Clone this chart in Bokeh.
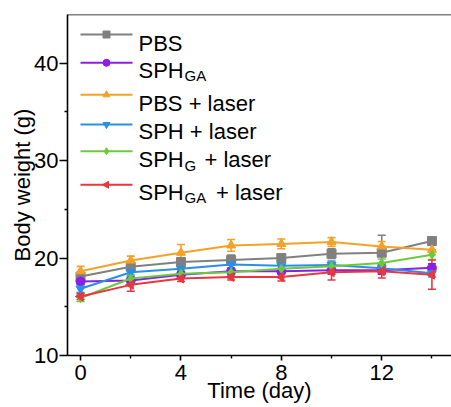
import math
from bokeh.plotting import figure
from bokeh.models import (ColumnDataSource, Range1d, FixedTicker, Whisker,
                          TeeHead, Label, Span)
from bokeh.embed import file_html
from bokeh.resources import INLINE

# Body weight (g) of mice over 14 days, mean with error
days = [0, 2, 4, 6, 8, 10, 12, 14]

pbs = [18.1, 19.1, 19.6, 19.8, 20.0, 20.45, 20.55, 21.75]
pbs_err = [0.3, 0.3, 0.4, 0.5, 0.4, 0.5, 1.8, 0.4]

sph_ga = [17.6, 17.7, 18.3, 18.65, 18.65, 18.75, 18.75, 19.0]
sph_ga_err = [0.3, 0.3, 0.3, 0.3, 0.3, 0.4, 0.4, 0.4]

pbs_laser = [18.65, 19.75, 20.55, 21.3, 21.45, 21.65, 21.2, 20.85]
pbs_laser_err = [0.5, 0.45, 0.85, 0.6, 0.5, 0.45, 0.5, 0.5]

sph_laser = [16.85, 18.55, 18.9, 19.35, 19.2, 19.3, 18.95, 18.45]
sph_laser_err = [0.4, 0.4, 0.4, 0.4, 0.4, 0.4, 0.5, 0.4]

sph_g_laser = [15.9, 17.9, 18.4, 18.55, 18.9, 19.15, 19.5, 20.35]
sph_g_laser_err = [0.35, 0.4, 0.35, 0.35, 0.4, 0.4, 0.4, 0.5]

sph_ga_laser = [16.05, 17.25, 17.9, 18.05, 18.05, 18.55, 18.65, 18.3]
sph_ga_laser_err = [0.3, 0.65, 0.3, 0.3, 0.4, 0.8, 0.7, 1.5]

x_ticks = [0, 4, 8, 12]
x_minor = [2, 6, 10, 14]
y_ticks = [10, 20, 30, 40]
y_minor = [15, 25, 35]

FONT = "Liberation Sans"

series = [
    # (values, errors, colour, marker, angle, main label, subscript, suffix)
    (pbs, pbs_err, "#808080", "square", 0.0, "PBS", "", ""),
    (sph_ga, sph_ga_err, "#8C1EE6", "circle", 0.0, "SPH", "GA", ""),
    (pbs_laser, pbs_laser_err, "#F4A227", "triangle", 0.0, "PBS + laser", "", ""),
    (sph_laser, sph_laser_err, "#2A8FE6", "inverted_triangle", 0.0, "SPH + laser", "", ""),
    (sph_g_laser, sph_g_laser_err, "#6CC93E", "diamond", 0.0, "SPH", "G", "+ laser"),
    (sph_ga_laser, sph_ga_laser_err, "#E8383F", "triangle", math.pi / 2, "SPH", "GA", "+ laser"),
]

X0, X1 = -0.52, 14.78
Y0, Y1 = 10, 45
LEFT, TOP, FW, FH = 67, 14, 384, 341

p = figure(width=451, height=407, x_range=Range1d(X0, X1), y_range=Range1d(Y0, Y1),
           output_backend="svg", toolbar_location=None,
           min_border_left=LEFT, min_border_right=0, min_border_top=TOP,
           min_border_bottom=407 - TOP - FH)
p.outline_line_color = None
p.grid.visible = False
p.background_fill_color = "white"
p.border_fill_color = "white"


def dx(px):
    return X0 + (px - LEFT) / FW * (X1 - X0)


def dy(py):
    return Y1 - (py - TOP) / FH * (Y1 - Y0)


for vals, errs, color, marker, ang, *_ in series:
    src = ColumnDataSource(dict(
        x=days, y=vals,
        lo=[v - e for v, e in zip(vals, errs)],
        hi=[v + e for v, e in zip(vals, errs)],
    ))
    w = Whisker(source=src, base="x", lower="lo", upper="hi",
                line_color=color, line_width=1.6,
                upper_head=TeeHead(size=8, line_color=color, line_width=1.6),
                lower_head=TeeHead(size=8, line_color=color, line_width=1.6))
    p.add_layout(w)
    p.line("x", "y", source=src, line_color=color, line_width=2)
    p.scatter("x", "y", source=src, marker=marker, angle=ang, size=9,
              fill_color=color, line_color=color)

# legend, drawn by hand so the subscripts can be set smaller and lowered
rows = [(34, 42.5, 75), (62.3, 70, 75), (94.3, 102.7, 0), (124, 130.7, 0),
        (150.7, 159, 164.5), (184.3, 192.3, 197.3)]
sub_x = 184
suffix_x = {"GA": 215.5, "G": 204}
for (vals, errs, color, marker, ang, main, sub, suffix), (my, base, sub_base) in zip(series, rows):
    p.line([dx(80), dx(132)], [dy(my), dy(my)], line_color=color, line_width=2)
    p.scatter([dx(106)], [dy(my)], marker=marker, angle=ang, size=7,
              fill_color=color, line_color=color)
    p.add_layout(Label(x=dx(138), y=dy(base), text=main, text_font=FONT,
                       text_font_size="22px", text_baseline="alphabetic",
                       text_color="black"))
    if sub:
        p.add_layout(Label(x=dx(sub_x), y=dy(sub_base), text=sub, text_font=FONT,
                           text_font_size="15px", text_baseline="alphabetic",
                           text_color="black"))
    if suffix:
        p.add_layout(Label(x=dx(suffix_x[sub]), y=dy(base), text=suffix, text_font=FONT,
                           text_font_size="22px", text_baseline="alphabetic",
                           text_color="black"))

# top frame line (the right side is open)
p.add_layout(Span(location=Y1, dimension="width", line_color="black", line_width=1.6))

xa = p.xaxis[0]
xa.ticker = FixedTicker(ticks=x_ticks, minor_ticks=x_minor)
xa.axis_label = "Time (day)"
xa.axis_label_standoff = -5
xa.major_label_standoff = 4

ya = p.yaxis[0]
ya.ticker = FixedTicker(ticks=y_ticks, minor_ticks=y_minor)
ya.axis_label = "Body weight (g)"
ya.axis_label_standoff = -4
ya.major_label_standoff = 1

for ax in (xa, ya):
    ax.axis_line_width = 1.6
    ax.axis_line_color = "black"
    ax.major_tick_line_width = 1.6
    ax.minor_tick_line_width = 1.4
    ax.major_tick_in = 0
    ax.minor_tick_in = 0
    ax.minor_tick_out = 3
    ax.major_label_text_font = FONT
    ax.major_label_text_font_size = "22px"
    ax.major_label_text_color = "black"
    ax.axis_label_text_font = FONT
    ax.axis_label_text_font_size = "22px"
    ax.axis_label_text_font_style = "normal"
    ax.axis_label_text_color = "black"

xa.major_tick_out = 5
ya.major_tick_out = 8

open("out.html", "w").write(file_html(p, INLINE))
